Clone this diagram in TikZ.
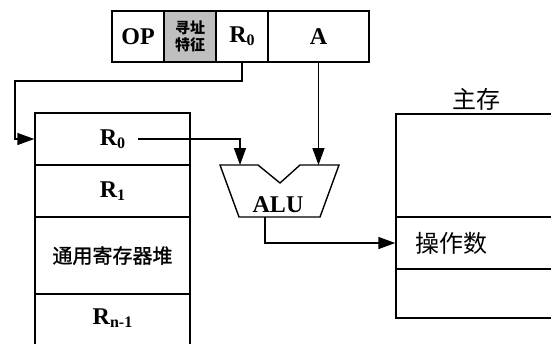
\documentclass[tikz,border=0pt]{standalone}
\usepackage{fontspec}
\setmainfont{Liberation Serif}
\newfontfamily\cjk{Noto Sans CJK SC}
\newfontfamily\cjkfb[FakeBold=1.2]{Noto Sans CJK SC}
\usetikzlibrary{arrows.meta}
\newcommand\subx[1]{\raisebox{-0.3ex}{\fontsize{16}{16}\selectfont #1}}
\tikzset{
  cell/.style={draw, line width=1.4pt, inner sep=0pt},
  lbl/.style={font=\fontsize{24}{24}\selectfont\bfseries, inner sep=0pt},
  cjklbl/.style={font=\fontsize{20}{20}\selectfont\cjkfb, inner sep=0pt},
  memlbl/.style={font=\fontsize{24}{24}\selectfont\cjk, inner sep=0pt},
  conn/.style={line width=1.4pt, -{Triangle[length=17pt,width=12pt]}},
}
\begin{document}
\begin{tikzpicture}[x=1pt,y=-1pt]
\clip (0,0) rectangle (551,343);
\fill[white] (0,0) rectangle (551,343);
% instruction register
\node[cell, lbl, minimum width=52, minimum height=51] (op) at (138,36.5) {OP};
\node[cell, fill={rgb,255:red,191;green,191;blue,191}, minimum width=52, minimum height=51,
      align=center, font=\fontsize{15}{17}\selectfont\cjk\bfseries] (mode) at (190,36.5) {寻址\\特征};
\node[cell, lbl, minimum width=52, minimum height=51] (r0f) at (242,36.5) {R\subx{0}};
\node[cell, lbl, minimum width=101, minimum height=51] (af) at (318.5,36.5) {A};
% register file
\node[cell, lbl, minimum width=155, minimum height=52] (r0b) at (112.5,139) {R\subx{0}};
\node[cell, lbl, minimum width=155, minimum height=52] (r1b) at (112.5,191) {R\subx{1}};
\node[cell, cjklbl, minimum width=155, minimum height=77] (stack) at (112.5,255.5) {通用寄存器堆};
\node[cell, minimum width=155, minimum height=100] (rnb) at (112.5,344) {};
\node[lbl] (rntxt) at (112.5,318) {R\subx{n-1}};
% main memory
\node[memlbl] (memtitle) at (476,99) {主存};
\node[cell, minimum width=180, minimum height=103] (m1) at (486,165.5) {};
\node[cell, minimum width=180, minimum height=52] (m2) at (486,243) {};
\node[cell, minimum width=180, minimum height=49] (m3) at (486,293.5) {};
\node[memlbl] (optxt) at (451,243) {操作数};
% ALU
\draw[line width=1.4pt, line join=miter] (220,165) -- (258,165) -- (280,183) -- (300,165) -- (339,165)
  -- (320,217) -- (239,217) -- cycle;
\node[lbl] (alu) at (278,205) {ALU};
\coordinate (aluin1) at (240,165);
\coordinate (aluin2) at (318.5,165);
\coordinate (aluout) at (265,217);
% connectors
\draw[conn] (r0f.south) |- (15,81) |- (r0b.west);
\draw[conn] (138,139) -- (aluin1 |- r0b.center) -- (aluin1);
\draw[conn] (af.south) -- (aluin2);
\draw[conn] (aluout) |- (m2.west);
\end{tikzpicture}
\end{document}
